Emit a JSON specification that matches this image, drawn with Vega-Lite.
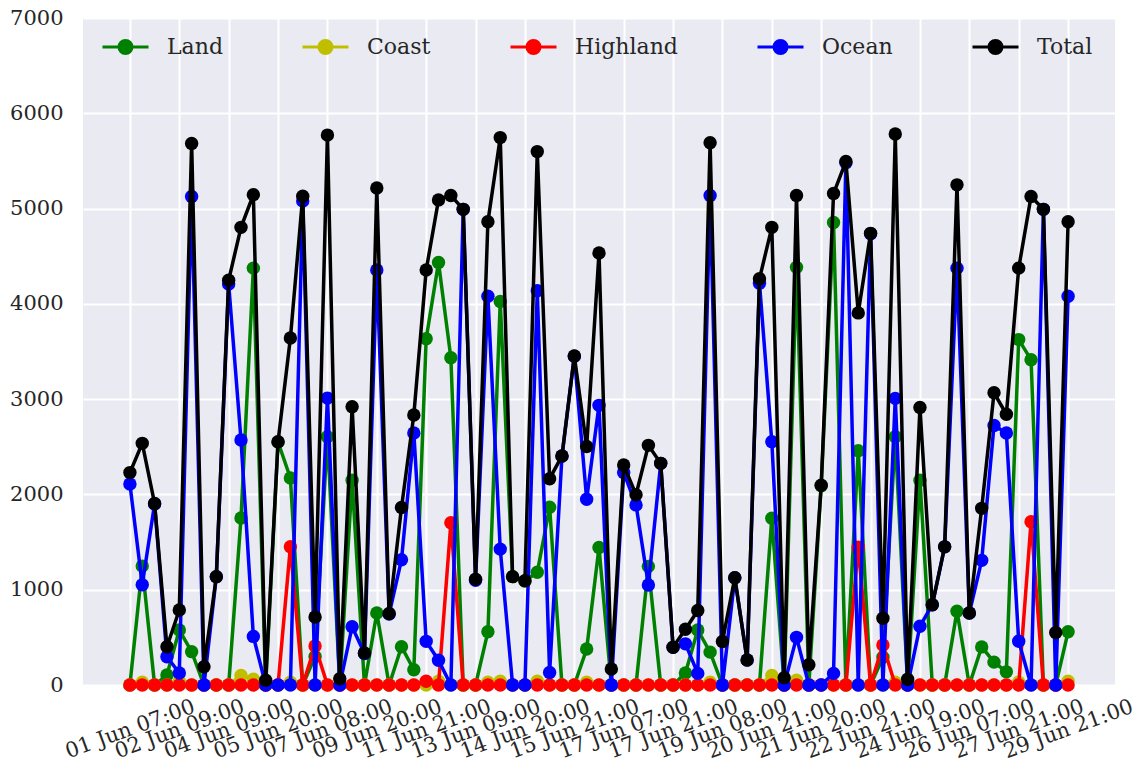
{
  "$schema": "https://vega.github.io/schema/vega-lite/v6.json",
  "autosize": {"type": "none"},
  "padding": {"left": 83, "top": 18, "right": 30, "bottom": 98},
  "width": 1032,
  "height": 667,
  "background": "white",
  "config": {
    "view": {"fill": "#EAEAF2", "stroke": null},
    "axis": {
      "domain": false,
      "ticks": false,
      "tickSize": 0,
      "grid": true,
      "gridColor": "white",
      "gridWidth": 2,
      "labelFont": "DejaVu Serif",
      "labelFontSize": 21,
      "labelColor": "#262626",
      "labelFlush": false,
      "labelOverlap": false,
      "title": null
    }
  },
  "data": {
    "values": [
      {"i": 0, "Land": 0, "Coast": 0, "Highland": 0, "Ocean": 2110, "Total": 2229},
      {"i": 1, "Land": 1248, "Coast": 30, "Highland": 0, "Ocean": 1051, "Total": 2536},
      {"i": 2, "Land": 0, "Coast": 0, "Highland": 0, "Ocean": 1900, "Total": 1905},
      {"i": 3, "Land": 105, "Coast": 0, "Highland": 0, "Ocean": 297, "Total": 402},
      {"i": 4, "Land": 577, "Coast": 40, "Highland": 0, "Ocean": 126, "Total": 787},
      {"i": 5, "Land": 350, "Coast": 0, "Highland": 0, "Ocean": 5126, "Total": 5684},
      {"i": 6, "Land": 0, "Coast": 0, "Highland": 0, "Ocean": 0, "Total": 192},
      {"i": 7, "Land": 0, "Coast": 0, "Highland": 0, "Ocean": 1137, "Total": 1137},
      {"i": 8, "Land": 0, "Coast": 0, "Highland": 0, "Ocean": 4209, "Total": 4249},
      {"i": 9, "Land": 1752, "Coast": 100, "Highland": 0, "Ocean": 2571, "Total": 4803},
      {"i": 10, "Land": 4375, "Coast": 60, "Highland": 0, "Ocean": 510, "Total": 5146},
      {"i": 11, "Land": 0, "Coast": 0, "Highland": 0, "Ocean": 0, "Total": 50},
      {"i": 12, "Land": 2550, "Coast": 0, "Highland": 0, "Ocean": 0, "Total": 2553},
      {"i": 13, "Land": 2172, "Coast": 30, "Highland": 1451, "Ocean": 0, "Total": 3641},
      {"i": 14, "Land": 0, "Coast": 0, "Highland": 0, "Ocean": 5080, "Total": 5130},
      {"i": 15, "Land": 300, "Coast": 0, "Highland": 410, "Ocean": 0, "Total": 714},
      {"i": 16, "Land": 2606, "Coast": 0, "Highland": 0, "Ocean": 3011, "Total": 5771},
      {"i": 17, "Land": 0, "Coast": 0, "Highland": 0, "Ocean": 0, "Total": 65},
      {"i": 18, "Land": 2150, "Coast": 0, "Highland": 0, "Ocean": 612, "Total": 2920},
      {"i": 19, "Land": 0, "Coast": 0, "Highland": 0, "Ocean": 330, "Total": 336},
      {"i": 20, "Land": 755, "Coast": 0, "Highland": 0, "Ocean": 4355, "Total": 5217},
      {"i": 21, "Land": 0, "Coast": 0, "Highland": 0, "Ocean": 744, "Total": 750},
      {"i": 22, "Land": 402, "Coast": 0, "Highland": 0, "Ocean": 1315, "Total": 1862},
      {"i": 23, "Land": 160, "Coast": 0, "Highland": 0, "Ocean": 2645, "Total": 2834},
      {"i": 24, "Land": 3635, "Coast": 0, "Highland": 40, "Ocean": 458, "Total": 4355},
      {"i": 25, "Land": 4434, "Coast": 40, "Highland": 0, "Ocean": 260, "Total": 5091},
      {"i": 26, "Land": 3434, "Coast": 0, "Highland": 1702, "Ocean": 0, "Total": 5138},
      {"i": 27, "Land": 0, "Coast": 0, "Highland": 0, "Ocean": 4992, "Total": 4992},
      {"i": 28, "Land": 0, "Coast": 0, "Highland": 0, "Ocean": 1100, "Total": 1110},
      {"i": 29, "Land": 558, "Coast": 30, "Highland": 0, "Ocean": 4079, "Total": 4862},
      {"i": 30, "Land": 4025, "Coast": 40, "Highland": 0, "Ocean": 1426, "Total": 5745},
      {"i": 31, "Land": 1137, "Coast": 0, "Highland": 0, "Ocean": 0, "Total": 1137},
      {"i": 32, "Land": 1091, "Coast": 0, "Highland": 0, "Ocean": 0, "Total": 1095},
      {"i": 33, "Land": 1183, "Coast": 40, "Highland": 0, "Ocean": 4138, "Total": 5598},
      {"i": 34, "Land": 1865, "Coast": 0, "Highland": 0, "Ocean": 132, "Total": 2165},
      {"i": 35, "Land": 0, "Coast": 0, "Highland": 0, "Ocean": 2404, "Total": 2404},
      {"i": 36, "Land": 0, "Coast": 0, "Highland": 0, "Ocean": 3450, "Total": 3454},
      {"i": 37, "Land": 377, "Coast": 30, "Highland": 0, "Ocean": 1950, "Total": 2503},
      {"i": 38, "Land": 1443, "Coast": 0, "Highland": 0, "Ocean": 2935, "Total": 4533},
      {"i": 39, "Land": 0, "Coast": 0, "Highland": 0, "Ocean": 0, "Total": 168},
      {"i": 40, "Land": 0, "Coast": 0, "Highland": 0, "Ocean": 2229, "Total": 2308},
      {"i": 41, "Land": 0, "Coast": 0, "Highland": 0, "Ocean": 1890, "Total": 1997},
      {"i": 42, "Land": 1245, "Coast": 0, "Highland": 0, "Ocean": 1050, "Total": 2515},
      {"i": 43, "Land": 0, "Coast": 0, "Highland": 0, "Ocean": 2326, "Total": 2326},
      {"i": 44, "Land": 0, "Coast": 0, "Highland": 0, "Ocean": 395, "Total": 397},
      {"i": 45, "Land": 126, "Coast": 0, "Highland": 0, "Ocean": 432, "Total": 585},
      {"i": 46, "Land": 577, "Coast": 0, "Highland": 0, "Ocean": 122, "Total": 781},
      {"i": 47, "Land": 345, "Coast": 30, "Highland": 0, "Ocean": 5138, "Total": 5692},
      {"i": 48, "Land": 0, "Coast": 0, "Highland": 0, "Ocean": 0, "Total": 457},
      {"i": 49, "Land": 0, "Coast": 0, "Highland": 0, "Ocean": 1126, "Total": 1126},
      {"i": 50, "Land": 0, "Coast": 0, "Highland": 0, "Ocean": 262, "Total": 262},
      {"i": 51, "Land": 0, "Coast": 0, "Highland": 0, "Ocean": 4217, "Total": 4264},
      {"i": 52, "Land": 1750, "Coast": 100, "Highland": 0, "Ocean": 2554, "Total": 4803},
      {"i": 53, "Land": 0, "Coast": 0, "Highland": 0, "Ocean": 0, "Total": 77},
      {"i": 54, "Land": 4383, "Coast": 50, "Highland": 0, "Ocean": 500, "Total": 5138},
      {"i": 55, "Land": 0, "Coast": 0, "Highland": 0, "Ocean": 0, "Total": 212},
      {"i": 56, "Land": 2090, "Coast": 0, "Highland": 0, "Ocean": 0, "Total": 2096},
      {"i": 57, "Land": 4854, "Coast": 0, "Highland": 0, "Ocean": 122, "Total": 5158},
      {"i": 58, "Land": 0, "Coast": 0, "Highland": 0, "Ocean": 5480, "Total": 5495},
      {"i": 59, "Land": 2459, "Coast": 0, "Highland": 1446, "Ocean": 0, "Total": 3905},
      {"i": 60, "Land": 0, "Coast": 0, "Highland": 0, "Ocean": 4736, "Total": 4740},
      {"i": 61, "Land": 290, "Coast": 0, "Highland": 420, "Ocean": 0, "Total": 700},
      {"i": 62, "Land": 2605, "Coast": 30, "Highland": 0, "Ocean": 3008, "Total": 5783},
      {"i": 63, "Land": 0, "Coast": 0, "Highland": 0, "Ocean": 0, "Total": 60},
      {"i": 64, "Land": 2150, "Coast": 0, "Highland": 0, "Ocean": 617, "Total": 2913},
      {"i": 65, "Land": 0, "Coast": 0, "Highland": 0, "Ocean": 842, "Total": 842},
      {"i": 66, "Land": 0, "Coast": 0, "Highland": 0, "Ocean": 1450, "Total": 1450},
      {"i": 67, "Land": 775, "Coast": 0, "Highland": 0, "Ocean": 4375, "Total": 5249},
      {"i": 68, "Land": 0, "Coast": 0, "Highland": 0, "Ocean": 755, "Total": 755},
      {"i": 69, "Land": 400, "Coast": 0, "Highland": 0, "Ocean": 1308, "Total": 1854},
      {"i": 70, "Land": 240, "Coast": 0, "Highland": 0, "Ocean": 2724, "Total": 3067},
      {"i": 71, "Land": 138, "Coast": 0, "Highland": 0, "Ocean": 2645, "Total": 2842},
      {"i": 72, "Land": 3625, "Coast": 30, "Highland": 0, "Ocean": 460, "Total": 4375},
      {"i": 73, "Land": 3414, "Coast": 0, "Highland": 1714, "Ocean": 0, "Total": 5126},
      {"i": 74, "Land": 0, "Coast": 0, "Highland": 0, "Ocean": 4992, "Total": 4992},
      {"i": 75, "Land": 0, "Coast": 0, "Highland": 0, "Ocean": 0, "Total": 550},
      {"i": 76, "Land": 558, "Coast": 40, "Highland": 0, "Ocean": 4079, "Total": 4862}
    ]
  },
  "transform": [
    {"fold": ["Land", "Coast", "Highland", "Ocean", "Total"], "as": ["series", "value"]}
  ],
  "encoding": {
    "x": {
      "field": "i",
      "type": "quantitative",
      "scale": {"domain": [-3.8, 79.8], "nice": false, "zero": false},
      "axis": {
        "values": [0, 4, 8, 12, 16, 20, 24, 28, 32, 36, 40, 44, 48, 52, 56, 60, 64, 68, 72, 76],
        "labelExpr": "['01 Jun 07:00','02 Jun 09:00','04 Jun 09:00','05 Jun 20:00','07 Jun 08:00','09 Jun 20:00','11 Jun 21:00','13 Jun 09:00','14 Jun 20:00','15 Jun 21:00','17 Jun 07:00','17 Jun 21:00','19 Jun 08:00','20 Jun 21:00','21 Jun 20:00','22 Jun 21:00','24 Jun 19:00','26 Jun 07:00','27 Jun 21:00','29 Jun 21:00'][round(datum.value/4)]",
        "labelAngle": -20,
        "labelAlign": "center",
        "labelBaseline": "middle",
        "labelPadding": 44
      }
    },
    "y": {
      "field": "value",
      "type": "quantitative",
      "scale": {"domain": [0, 7000], "nice": false},
      "axis": {
        "values": [0, 1000, 2000, 3000, 4000, 5000, 6000, 7000],
        "format": "d",
        "labelPadding": 20
      }
    },
    "color": {
      "field": "series",
      "type": "nominal",
      "scale": {
        "domain": ["Land", "Coast", "Highland", "Ocean", "Total"],
        "range": ["#008000", "#BFBF00", "#FF0000", "#0000FF", "#000000"]
      },
      "legend": {
        "title": null,
        "orient": "none",
        "legendX": 18,
        "legendY": 4,
        "direction": "horizontal",
        "columns": 5,
        "padding": 0,
        "symbolType": "M-1,0L1,0M-0.283,0A0.283,0.283,0,1,1,0.283,0A0.283,0.283,0,1,1,-0.283,0Z",
        "symbolSize": 2116,
        "symbolStrokeWidth": 3,
        "symbolOpacity": 1,
        "labelFont": "DejaVu Serif",
        "labelFontSize": 22,
        "labelColor": "#262626",
        "labelOffset": 17,
        "labelLimit": 300,
        "columnPadding": 73,
        "encode": {
          "symbols": {
            "update": {
              "fill": {"scale": "color", "field": "value"},
              "stroke": {"scale": "color", "field": "value"},
              "opacity": {"value": 1}
            }
          }
        }
      }
    }
  },
  "layer": [
    {"transform": [{"filter": "datum.series === 'Land'"}], "mark": {"type": "line", "strokeWidth": 3.5, "point": {"filled": true, "size": 180, "opacity": 1}}},
    {"transform": [{"filter": "datum.series === 'Coast'"}], "mark": {"type": "line", "strokeWidth": 3.5, "point": {"filled": true, "size": 180, "opacity": 1}}},
    {"transform": [{"filter": "datum.series === 'Highland'"}], "mark": {"type": "line", "strokeWidth": 3.5, "point": {"filled": true, "size": 180, "opacity": 1}}},
    {"transform": [{"filter": "datum.series === 'Ocean'"}], "mark": {"type": "line", "strokeWidth": 3.5, "point": {"filled": true, "size": 180, "opacity": 1}}},
    {"transform": [{"filter": "datum.series === 'Total'"}], "mark": {"type": "line", "strokeWidth": 3.5, "point": {"filled": true, "size": 180, "opacity": 1}}}
  ]
}
